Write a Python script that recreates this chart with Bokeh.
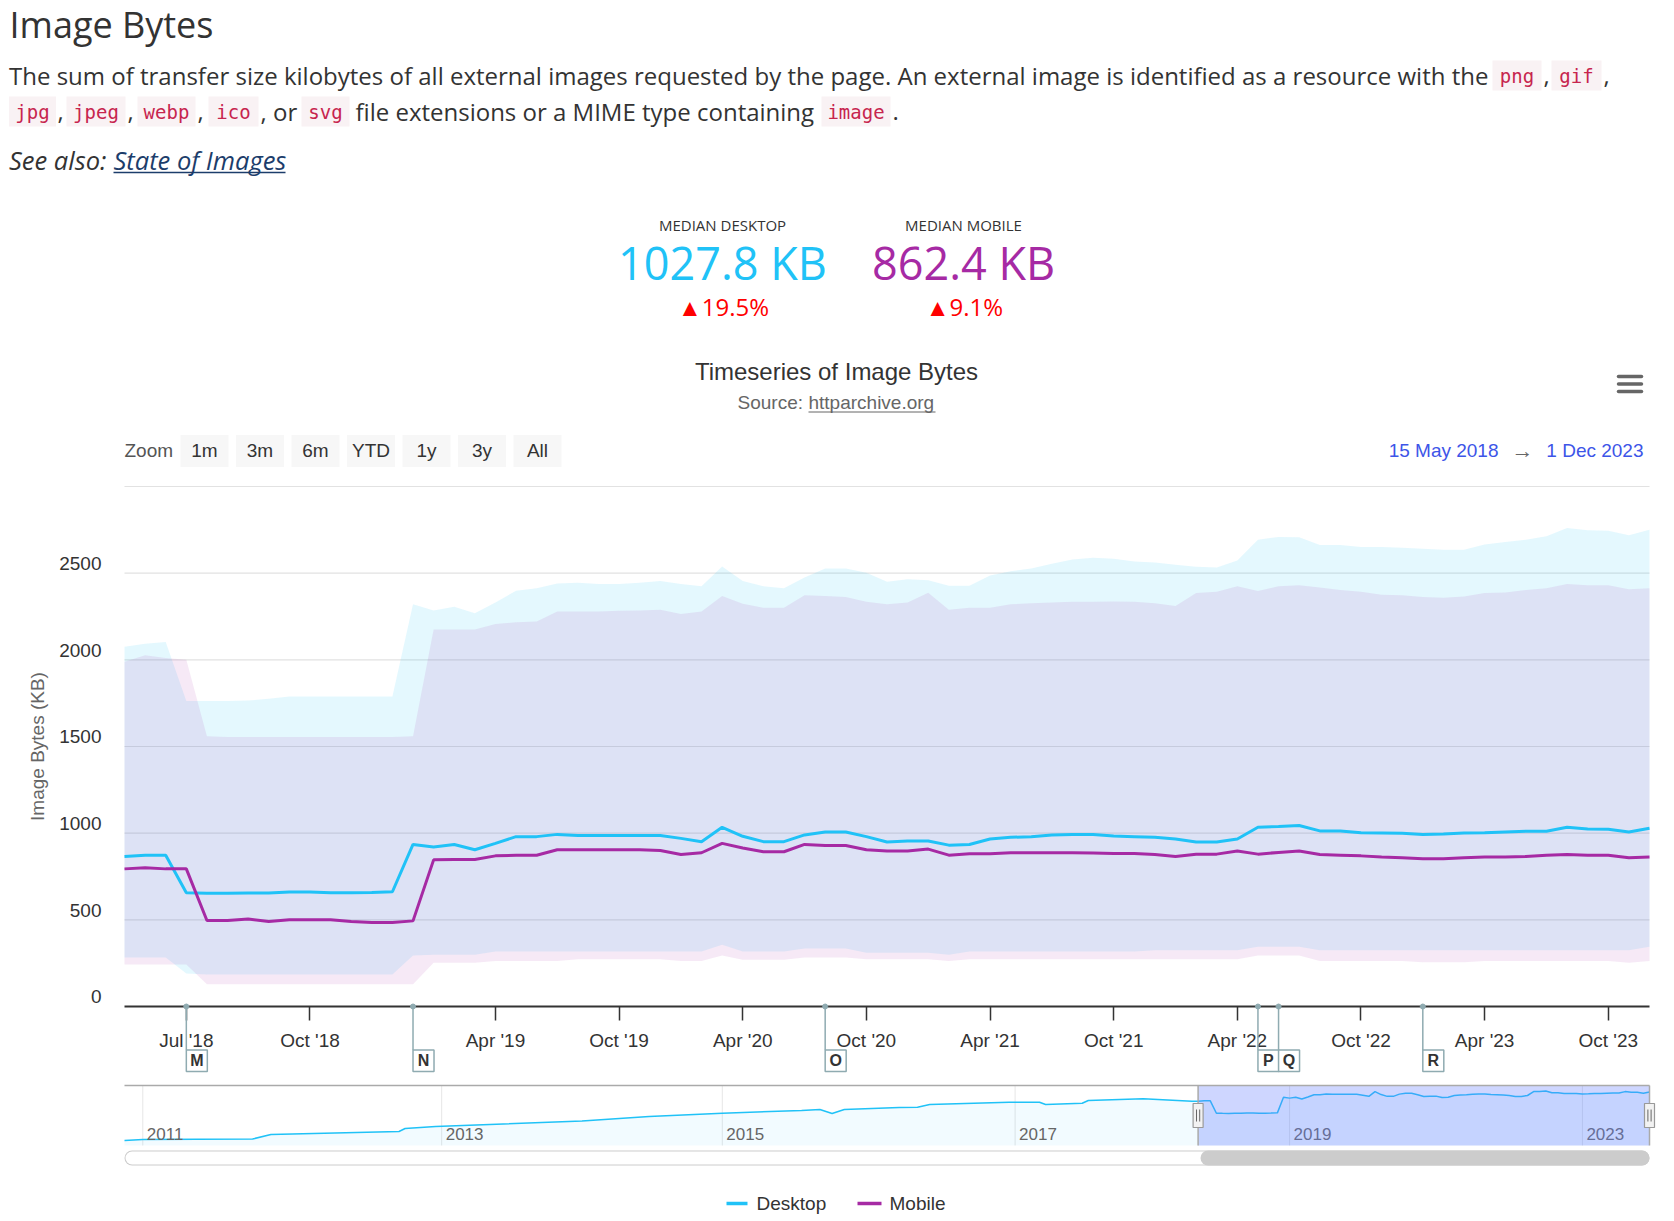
from bokeh.plotting import figure
from bokeh.models import Range1d, LinearAxis, FixedTicker
from bokeh.embed import file_html
from bokeh.resources import INLINE
from bokeh.core.properties import value

# ---------------------------------------------------------------- data
DESKTOP_COLOR = "#20C2F7"
MOBILE_COLOR = "#A62AA4"

# crawl dates (ordinal x axis: one slot per crawl)
DATES = []
for m in range(5, 13):
    if m > 5:
        DATES.append(f"2018-{m:02d}-01")
    DATES.append(f"2018-{m:02d}-15")
for yr in range(2019, 2024):
    for m in range(1, 13):
        DATES.append(f"{yr}-{m:02d}-01")

DESKTOP = [866, 873, 873, 656, 654, 653, 655, 655, 660, 660,
           656, 656, 658, 662, 935, 920, 935, 904, 941, 980,
           980, 993, 986, 986, 986, 986, 986, 970, 951, 1034,
           982, 951, 951, 990, 1007, 1007, 980, 949, 955, 955,
           931, 935, 966, 976, 980, 990, 993, 993, 984, 980,
           976, 966, 949, 949, 966, 1034, 1038, 1044, 1013, 1013,
           1003, 1001, 999, 993, 995, 1001, 1003, 1007, 1011, 1011,
           1034, 1024, 1022, 1007, 1028]
MOBILE = [794, 800, 794, 794, 496, 496, 505, 490, 500, 500,
          500, 490, 484, 484, 494, 846, 848, 848, 869, 873,
          873, 904, 904, 904, 904, 904, 900, 877, 887, 941,
          914, 893, 893, 935, 929, 929, 904, 897, 897, 908,
          873, 881, 881, 887, 887, 887, 887, 885, 883, 883,
          877, 866, 879, 879, 897, 879, 889, 897, 877, 873,
          869, 862, 858, 852, 852, 858, 862, 862, 866, 873,
          877, 873, 873, 858, 862]
DESKTOP_HI = [2076, 2093, 2103, 1762, 1762, 1762, 1765, 1775, 1789, 1789,
              1789, 1789, 1789, 1789, 2320, 2285, 2306, 2269, 2331, 2399,
              2413, 2440, 2444, 2438, 2438, 2444, 2455, 2438, 2424, 2538,
              2455, 2424, 2413, 2475, 2527, 2527, 2502, 2451, 2465, 2459,
              2428, 2428, 2486, 2511, 2527, 2554, 2579, 2589, 2583, 2568,
              2562, 2548, 2537, 2533, 2573, 2693, 2709, 2707, 2662, 2662,
              2651, 2651, 2647, 2641, 2635, 2635, 2666, 2680, 2693, 2713,
              2761, 2748, 2744, 2719, 2750]
DESKTOP_LO = [283, 283, 283, 190, 184, 184, 184, 184, 184, 184,
              184, 184, 184, 184, 294, 298, 298, 298, 318, 318,
              318, 318, 318, 318, 318, 318, 318, 318, 318, 356,
              318, 318, 318, 335, 335, 335, 310, 310, 310, 310,
              298, 318, 318, 318, 318, 318, 318, 318, 318, 318,
              325, 325, 325, 325, 325, 345, 345, 345, 325, 325,
              325, 325, 325, 325, 325, 325, 325, 325, 325, 325,
              325, 325, 325, 325, 345]
MOBILE_HI = [1989, 2027, 2010, 2000, 1559, 1555, 1555, 1555, 1555, 1555,
             1555, 1555, 1555, 1555, 1559, 2175, 2175, 2175, 2207, 2217,
             2221, 2279, 2279, 2279, 2283, 2285, 2289, 2264, 2279, 2368,
             2324, 2300, 2300, 2372, 2368, 2362, 2335, 2320, 2331, 2387,
             2289, 2300, 2300, 2320, 2327, 2331, 2335, 2335, 2337, 2335,
             2327, 2310, 2386, 2393, 2424, 2397, 2424, 2430, 2418, 2403,
             2393, 2376, 2372, 2362, 2358, 2366, 2386, 2388, 2403, 2413,
             2438, 2430, 2430, 2407, 2413]
MOBILE_LO = [242, 242, 242, 242, 128, 128, 128, 128, 128, 128,
             128, 128, 128, 128, 128, 252, 252, 252, 263, 263,
             263, 263, 273, 273, 273, 273, 273, 263, 263, 294,
             269, 269, 269, 283, 283, 283, 273, 273, 273, 273,
             263, 273, 273, 273, 273, 273, 273, 273, 273, 273,
             273, 273, 273, 273, 273, 294, 294, 294, 263, 263,
             263, 263, 263, 256, 256, 256, 263, 263, 263, 263,
             263, 263, 263, 252, 263]

TICK_DATES = ["2018-07-01", "2018-10-01", "2019-04-01", "2019-10-01", "2020-04-01",
              "2020-10-01", "2021-04-01", "2021-10-01", "2022-04-01", "2022-10-01",
              "2023-04-01", "2023-10-01"]
TICK_LABELS = ["Jul '18", "Oct '18", "Apr '19", "Oct '19", "Apr '20", "Oct '20",
               "Apr '21", "Oct '21", "Apr '22", "Oct '22", "Apr '23", "Oct '23"]
Y_TICKS = [0, 500, 1000, 1500, 2000, 2500]
Y_GRID = [500, 1000, 1500, 2000, 2500, 3000]
Y_MAX = 3000

FLAG_DATES = ["2018-07-01", "2018-12-15", "2020-08-01", "2022-05-01", "2022-06-01", "2023-01-01"]
FLAG_TEXT = ["M", "N", "O", "P", "Q", "R"]

# navigator: desktop history (crawl slot index, KB); later part = DESKTOP
NAV_EARLY_IDX = [0, 3, 21, 24, 45, 46, 51, 75, 86, 98, 111, 114, 116, 118, 127,
                 130, 132, 145, 150, 151, 157, 158, 167, 175]
NAV_EARLY_KB = [178, 196, 205, 283, 336, 388, 423, 520, 598, 656, 703, 721, 651, 721, 756,
                761, 808, 848, 848, 808, 831, 878, 908, 866]
NAV_SEL_START = 176
NAV_YEARS = ["2011", "2013", "2015", "2017", "2019", "2023"]
NAV_YEAR_IDX = [3, 52, 98, 146, 191, 239]

MEDIANS = [("MEDIAN DESKTOP", "1027.8 KB", "\u25b219.5%", DESKTOP_COLOR),
           ("MEDIAN MOBILE", "862.4 KB", "\u25b29.1%", MOBILE_COLOR)]
ZOOM_BUTTONS = ["1m", "3m", "6m", "YTD", "1y", "3y", "All"]

# ---------------------------------------------------------------- page geometry (pixels)
W, H = 1666, 1220
TXT = "#333333"
CH_L, CH_R = 124, 1649          # first / last crawl slot
CH_TOP, CH_ZERO = 486, 1006     # 3000 KB / 0 KB
N = len(DATES)
idx = list(range(N))
PX_PER_SLOT = (CH_R - CH_L) / (N - 1)
PX_PER_KB = (CH_ZERO - CH_TOP) / Y_MAX
LABEL_SHIFT = 9.6 / PX_PER_KB

NAV_L, NAV_TOP, NAV_BOT = 124, 1085, 1145
NAV_PX = 6.1
NAV_KB_PER_PX = 17.5
NAV_FLOOR = 91

p = figure(width=W, height=H, x_range=Range1d(0, W), y_range=Range1d(H, 0),
           x_axis_location=None, y_axis_location=None, toolbar_location=None,
           output_backend="svg", min_border=0)
p.outline_line_color = None
p.xgrid.visible = False
p.ygrid.visible = False

p.extra_x_ranges = {
    "mx": Range1d(-CH_L / PX_PER_SLOT, (N - 1) + (W - CH_R) / PX_PER_SLOT),
    "navx": Range1d(-NAV_L / NAV_PX, (W - NAV_L) / NAV_PX),
}
my_start = -(H - CH_ZERO) / PX_PER_KB
my_end = Y_MAX + CH_TOP / PX_PER_KB
p.extra_y_ranges = {
    "my": Range1d(my_start, my_end),
    "ylab": Range1d(my_start - LABEL_SHIFT, my_end - LABEL_SHIFT),
    "navy": Range1d(NAV_FLOOR - (H - NAV_BOT) * NAV_KB_PER_PX, NAV_FLOOR + NAV_BOT * NAV_KB_PER_PX),
}


def txt(x, y, s, size, color=TXT, font="Open Sans", align="left", style="normal", **kw):
    p.text(x=[x], y=[y], text=[s], text_font=value(font), text_font_size=size,
           text_color=color, text_align=align, text_baseline="middle",
           text_font_style=style, **kw)


# ---------------------------------------------------------------- header
txt(9, 24, "Image Bytes", "36px")
txt(8.5, 75, "The sum of transfer size kilobytes of all external images requested by the page. "
    "An external image is identified as a resource with the", "24px")


def code(s, x0, x1, y):
    p.quad(left=[x0], right=[x1], top=[y - 15], bottom=[y + 15], fill_color="#f9f2f4", line_color=None)
    txt((x0 + x1) / 2, y, s, "19px", color="#c7254e", font="DejaVu Sans Mono", align="center")


code("png", 1492, 1541, 75)
txt(1543, 75, ",", "24px")
code("gif", 1551, 1601, 75)
txt(1603, 75, ",", "24px")
code("jpg", 8.5, 55.5, 111)
txt(57, 111, ",", "24px")
code("jpeg", 66, 125, 111)
txt(127, 111, ",", "24px")
code("webp", 137, 195, 111)
txt(197, 111, ",", "24px")
code("ico", 208, 258, 111)
txt(260, 111, ", or", "24px")
code("svg", 301, 349, 111)
txt(355, 111, "file extensions or a MIME type containing", "24px")
code("image", 821, 890, 111)
txt(892, 111, ".", "24px")

txt(8.5, 159, "See also:", "25.5px", style="italic")
txt(113, 159, "State of Images", "25.5px", color="#1c3d6b", style="italic")
p.segment(x0=[113], y0=[172], x1=[285], y1=[172], line_color="#1c3d6b", line_width=1.5)

for (lab, val, chg, col), cx in zip(MEDIANS, [722, 963]):
    txt(cx, 224, lab, "15px", align="center")
    txt(cx, 262, val, "45px", color=col, align="center")
    txt(cx + 1, 305.5, chg, "24px", color="#ff0000", align="center")

txt(836, 371, "Timeseries of Image Bytes", "24px", font="Liberation Sans", align="center")
txt(737, 402, "Source: ", "19px", color="#666666", font="Liberation Sans")
txt(808, 402, "httparchive.org", "19px", color="#666666", font="Liberation Sans")
p.segment(x0=[808], y0=[411.5], x1=[935], y1=[411.5], line_color="#666666", line_width=1)

# export menu (hamburger)
p.segment(x0=[1618] * 3, y0=[376, 383.5, 391], x1=[1641] * 3, y1=[376, 383.5, 391],
          line_color="#666666", line_width=3.5, line_cap="round")

# range selector
txt(124, 450, "Zoom", "19px", color="#555555", font="Liberation Sans")
btn_left = [180 + 55.5 * k for k in range(len(ZOOM_BUTTONS))]
p.quad(left=btn_left, right=[b + 48 for b in btn_left], top=[434.5] * len(btn_left),
       bottom=[466.5] * len(btn_left), fill_color="#f7f7f7", line_color=None)
p.text(x=[b + 24 for b in btn_left], y=[450] * len(btn_left), text=ZOOM_BUTTONS,
       text_font=value("Liberation Sans"), text_font_size="19px", text_color=TXT,
       text_align="center", text_baseline="middle")
txt(1498, 450, "15 May 2018", "19px", color="#3d55e8", font="Liberation Sans", align="right")
txt(1522, 450, "\u2192", "22px", color="#666666", font="Liberation Sans", align="center")
txt(1643, 450, "1 Dec 2023", "19px", color="#3d55e8", font="Liberation Sans", align="right")

# ---------------------------------------------------------------- main chart
MR = dict(x_range_name="mx", y_range_name="my")
p.segment(x0=[0] * len(Y_GRID), y0=Y_GRID, x1=[N - 1] * len(Y_GRID), y1=Y_GRID,
          line_color="#e2e2e2", line_width=1.2, **MR)
p.varea(x=idx, y1=DESKTOP_LO, y2=DESKTOP_HI, fill_color=DESKTOP_COLOR, fill_alpha=0.12, **MR)
p.varea(x=idx, y1=MOBILE_LO, y2=MOBILE_HI, fill_color=MOBILE_COLOR, fill_alpha=0.1, **MR)
p.line(idx, DESKTOP, line_color=DESKTOP_COLOR, line_width=3, **MR)
p.line(idx, MOBILE, line_color=MOBILE_COLOR, line_width=3, **MR)

tick_idx = [DATES.index(d) for d in TICK_DATES]
xax = LinearAxis(x_range_name="mx", y_range_name="my", fixed_location=0, bounds=(0, N - 1),
                 ticker=FixedTicker(ticks=tick_idx),
                 major_label_overrides={t: l for t, l in zip(tick_idx, TICK_LABELS)},
                 axis_line_color="#333333", axis_line_width=2,
                 major_tick_line_color="#333333", major_tick_line_width=1.5,
                 major_tick_out=14, major_tick_in=0, minor_tick_line_color=None,
                 major_label_text_font="Liberation Sans", major_label_text_font_size="19px",
                 major_label_text_color=TXT, major_label_standoff=9)
p.add_layout(xax, "below")

yax = LinearAxis(x_range_name="mx", y_range_name="ylab", fixed_location=0,
                 bounds=(-LABEL_SHIFT, Y_MAX - LABEL_SHIFT),
                 ticker=FixedTicker(ticks=Y_TICKS),
                 axis_label="Image Bytes (KB)", axis_line_color=None,
                 major_tick_line_color=None, minor_tick_line_color=None,
                 major_tick_out=0, major_tick_in=0,
                 major_label_text_font="Liberation Sans", major_label_text_font_size="19px",
                 major_label_text_color=TXT, major_label_standoff=23,
                 axis_label_standoff=8, axis_label_text_font="Liberation Sans",
                 axis_label_text_font_size="19px", axis_label_text_color="#666666",
                 axis_label_text_font_style="normal")
p.add_layout(yax, "left")

# flags (drawn above the axis)
FLAG_COLOR = "#8fabb1"
fx = [DATES.index(d) for d in FLAG_DATES]
nf = len(fx)
box_w = 21 / PX_PER_SLOT
flag_top = -(1049.5 - CH_ZERO) / PX_PER_KB
flag_bot = -(1071 - CH_ZERO) / PX_PER_KB
p.segment(x0=fx, y0=[0] * nf, x1=fx, y1=[flag_top] * nf, line_color=FLAG_COLOR,
          line_width=1.5, level="overlay", **MR)
p.quad(left=fx, right=[f + box_w for f in fx], top=[flag_top] * nf, bottom=[flag_bot] * nf,
       fill_color="white", line_color=FLAG_COLOR, line_width=1.5, level="overlay", **MR)
p.scatter(fx, [0] * nf, size=5, color=FLAG_COLOR, level="overlay", **MR)
p.text(x=[f + box_w / 2 for f in fx], y=[(flag_top + flag_bot) / 2] * nf, text=FLAG_TEXT,
       text_font=value("Liberation Sans"), text_font_style="bold", text_font_size="16px",
       text_color=TXT, text_align="center", text_baseline="middle", level="overlay", **MR)

# ---------------------------------------------------------------- navigator
NR = dict(x_range_name="navx", y_range_name="navy")
nav_idx = NAV_EARLY_IDX + [NAV_SEL_START + i for i in idx]
nav_kb = NAV_EARLY_KB + DESKTOP
nav_end = NAV_SEL_START + N - 1
ny = len(NAV_YEAR_IDX)

p.segment(x0=NAV_YEAR_IDX, y0=[NAV_TOP] * ny, x1=NAV_YEAR_IDX, y1=[NAV_BOT] * ny,
          x_range_name="navx", line_color="#e6e6e6", line_width=1)
p.varea(x=nav_idx, y1=[NAV_FLOOR] * len(nav_idx), y2=nav_kb, fill_color=DESKTOP_COLOR,
        fill_alpha=0.06, **NR)
p.line(nav_idx, nav_kb, line_color=DESKTOP_COLOR, line_width=1.5, **NR)
p.text(x=NAV_YEAR_IDX, y=[1133] * ny, text=NAV_YEARS, x_offset=4, x_range_name="navx",
       text_font=value("Liberation Sans"), text_font_size="17px", text_color="#666666",
       text_align="left", text_baseline="middle")
p.quad(left=[NAV_SEL_START], right=[nav_end], top=[NAV_TOP], bottom=[NAV_BOT], x_range_name="navx",
       fill_color="#6680ff", fill_alpha=0.32, line_color=None)
p.segment(x0=[CH_L], y0=[NAV_TOP], x1=[CH_R], y1=[NAV_TOP], line_color="#aaaaaa", line_width=1.5)
p.segment(x0=[NAV_SEL_START, nav_end], y0=[NAV_TOP, NAV_TOP], x1=[NAV_SEL_START, nav_end],
          y1=[NAV_BOT, NAV_BOT], x_range_name="navx", line_color="#aaaaaa", line_width=1.5)
p.rect(x=[NAV_SEL_START, nav_end], y=[1115, 1115], width=10, height=24, width_units="screen",
       height_units="screen", x_range_name="navx", fill_color="#f2f2f2", line_color="#999999",
       line_width=1.2)
g = 1.6 / NAV_PX
p.segment(x0=[NAV_SEL_START - g, NAV_SEL_START + g, nav_end - g, nav_end + g], y0=[1109] * 4,
          x1=[NAV_SEL_START - g, NAV_SEL_START + g, nav_end - g, nav_end + g], y1=[1121] * 4,
          x_range_name="navx", line_color="#666666", line_width=1)

# scrollbar
p.segment(x0=[131.5], y0=[1157.5], x1=[1641.5], y1=[1157.5], line_color="#cccccc",
          line_width=15, line_cap="round")
p.segment(x0=[131.5], y0=[1157.5], x1=[1641.5], y1=[1157.5], line_color="#ffffff",
          line_width=13, line_cap="round")
p.segment(x0=[1207.5], y0=[1157.5], x1=[1641.5], y1=[1157.5], line_color="#cccccc",
          line_width=15, line_cap="round")

# legend
p.segment(x0=[726, 857], y0=[1203, 1203], x1=[747, 881], y1=[1203, 1203],
          line_color=[DESKTOP_COLOR, MOBILE_COLOR], line_width=3.5)
p.text(x=[756, 889], y=[1203, 1203], text=["Desktop", "Mobile"],
       text_font=value("Liberation Sans"), text_font_size="19px", text_color=TXT,
       text_align="left", text_baseline="middle")

open("out.html", "w").write(file_html(p, INLINE))
